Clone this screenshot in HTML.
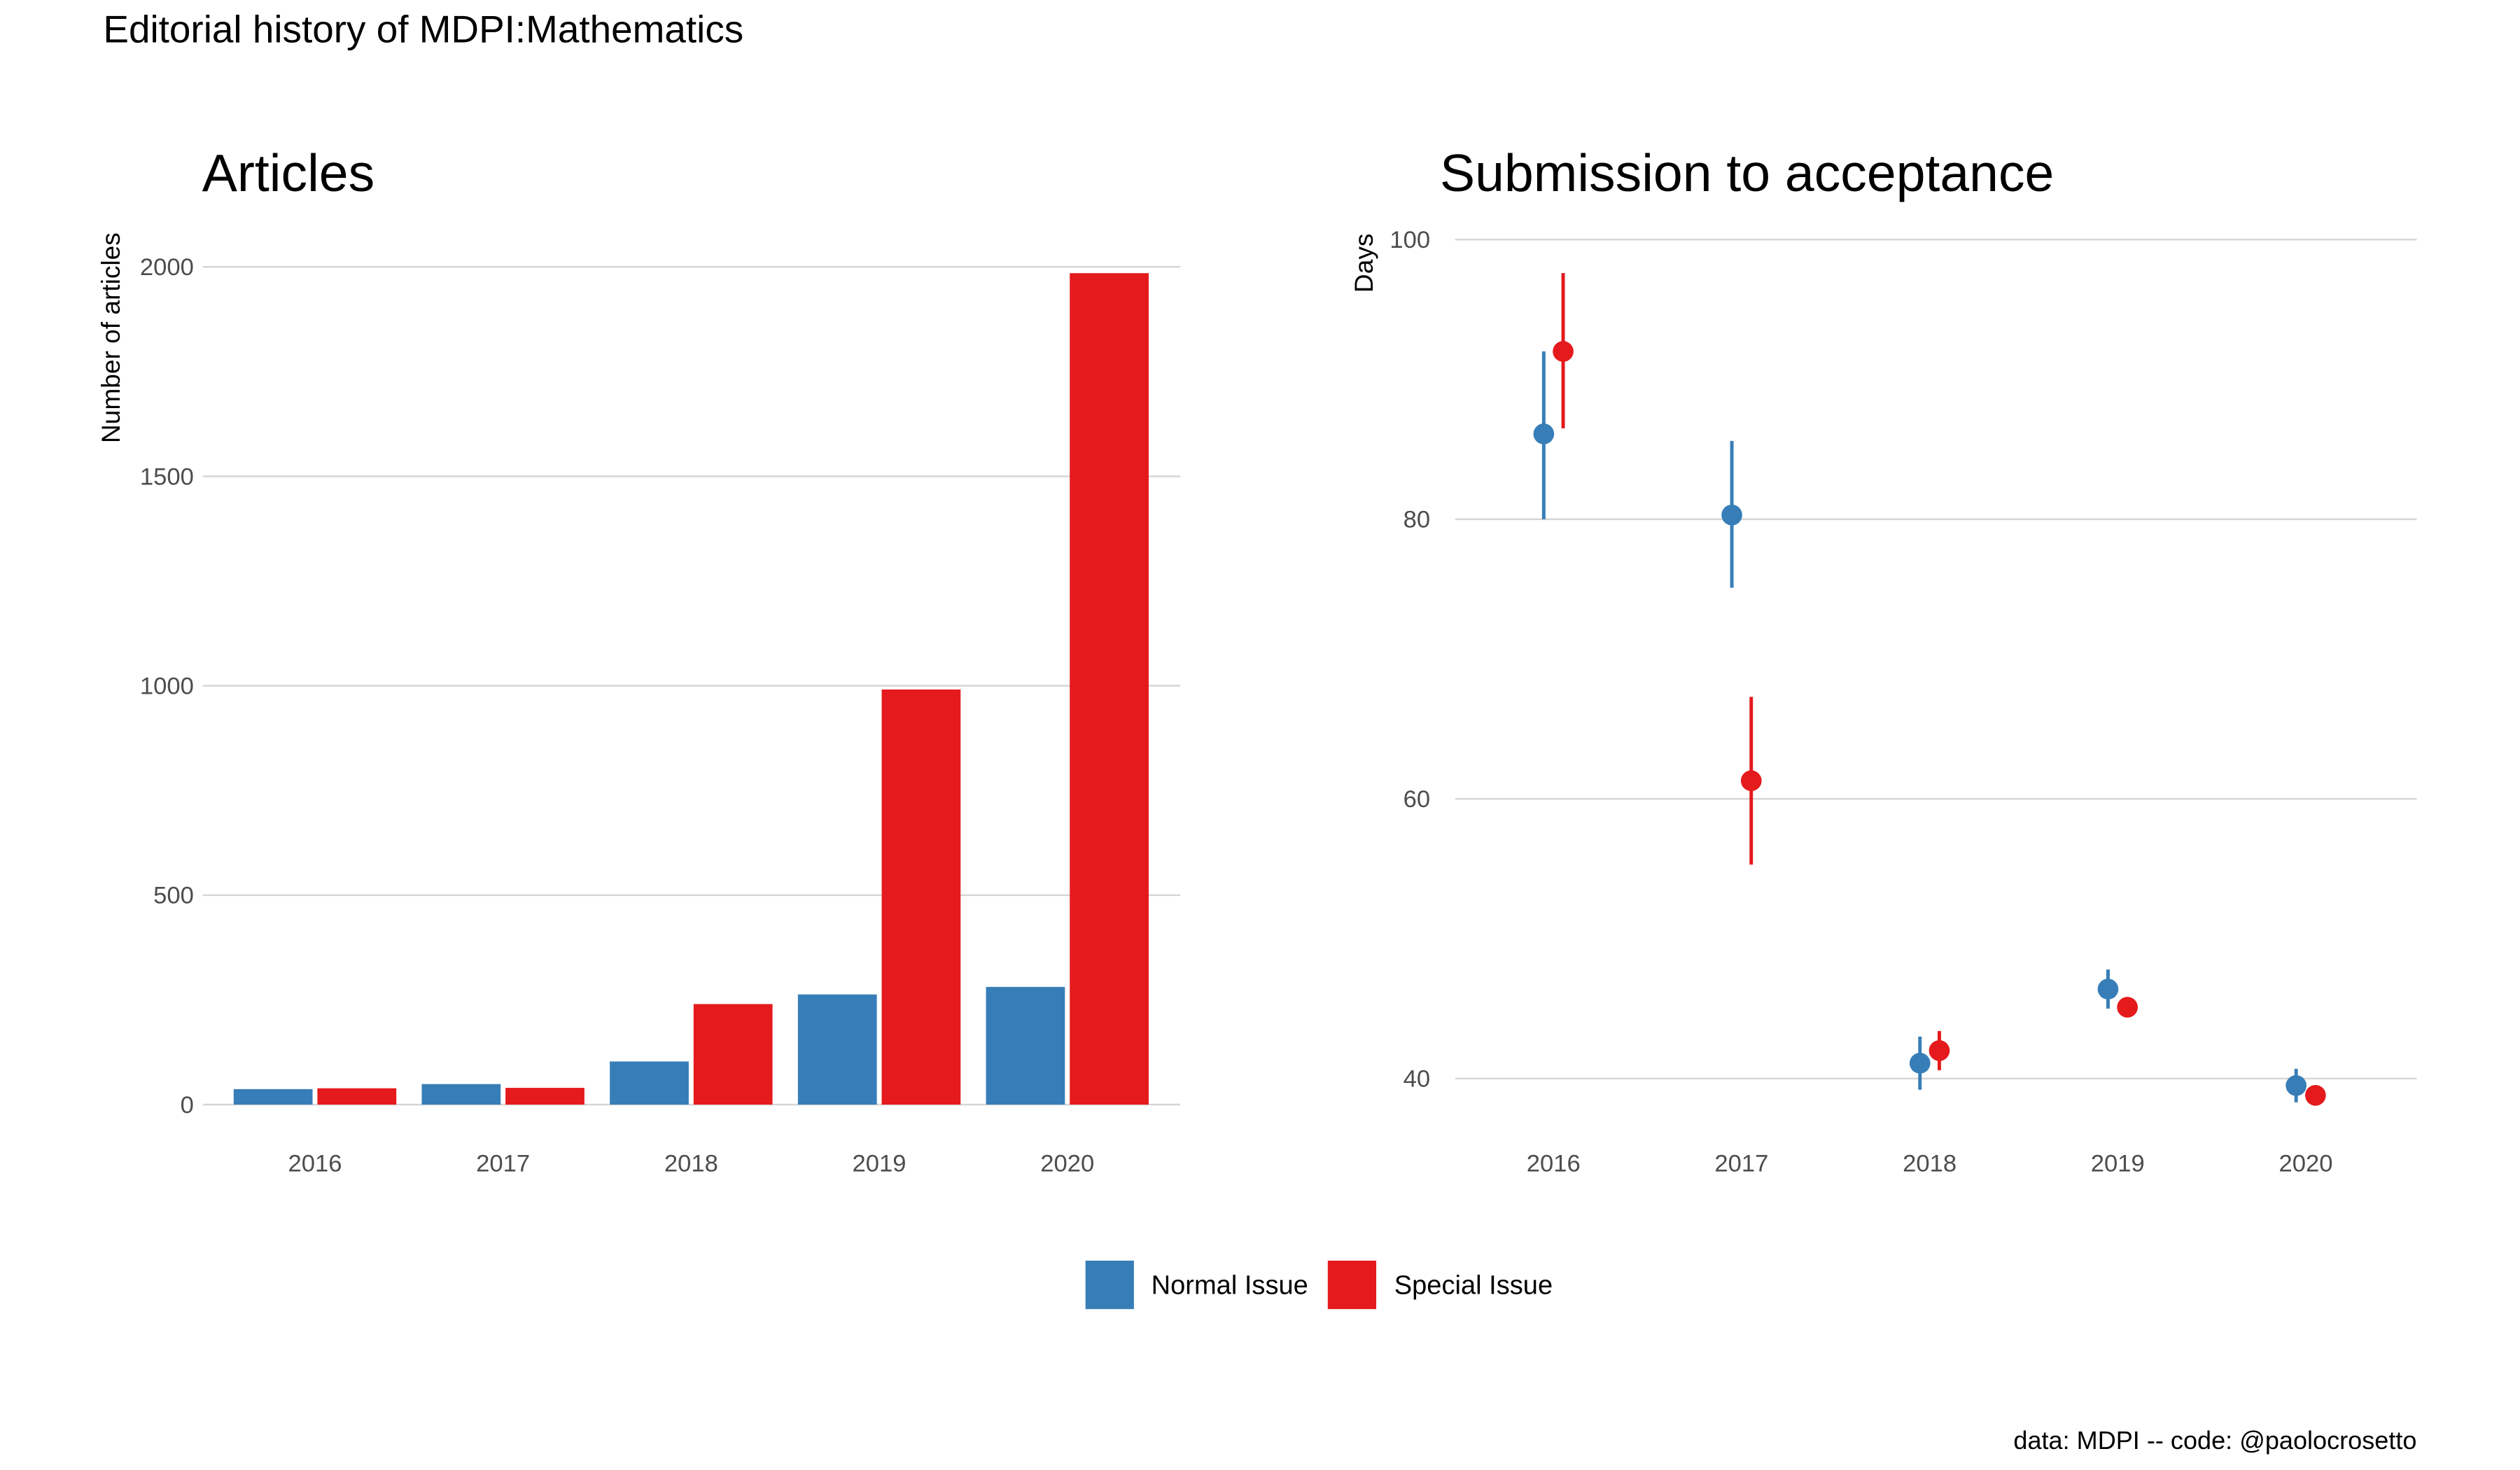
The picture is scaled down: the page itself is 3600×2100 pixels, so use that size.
<!DOCTYPE html>
<html><head><meta charset="utf-8"><style>
html,body{margin:0;padding:0;background:#fff;}
svg{display:block;font-family:"Liberation Sans",sans-serif;}
</style></head><body>
<svg id="chart" width="3600" height="2100" viewBox="0 0 3640.2 2123.4" xmlns="http://www.w3.org/2000/svg">
<text x="149" y="61" font-size="55.5" fill="#000">Editorial history of MDPI:Mathematics</text>
<text x="292" y="276" font-size="76" fill="#000">Articles</text>
<text x="2080" y="276" font-size="76" fill="#000">Submission to acceptance</text>
<text transform="translate(173,488) rotate(-90)" text-anchor="middle" font-size="37.5" fill="#000">Number of articles</text>
<text transform="translate(1983,380) rotate(-90)" text-anchor="middle" font-size="37.5" fill="#000">Days</text>
<g id="left"></g>
<g id="right"></g>
<g>
<rect x="1568" y="1821" width="70" height="70" fill="#377EB8"/>
<text x="1663" y="1869" font-size="38.5" fill="#000">Normal Issue</text>
<rect x="1918" y="1821" width="70" height="70" fill="#E41A1C"/>
<text x="2014" y="1869" font-size="38.5" fill="#000">Special Issue</text>
</g>
<text x="3491" y="2093" text-anchor="end" font-size="36.5" fill="#000">data: MDPI -- code: @paolocrosetto</text>
</svg>
<script>
const years = ["2016","2017","2018","2019","2020"];
const articlesNormal = [37, 49, 103, 263, 281];
const articlesSpecial = [39, 40, 240, 991, 1985];
const articleTicks = [0, 500, 1000, 1500, 2000];
const daysNormal = [86.1, 80.3, 41.1, 46.4, 39.5];
const daysNormalLo = [80.0, 75.1, 39.2, 45.0, 38.3];
const daysNormalHi = [92.0, 85.6, 43.0, 47.8, 40.7];
const daysSpecial = [92.0, 61.3, 42.0, 45.1, 38.8];
const daysSpecialLo = [86.5, 55.3, 40.6, 44.8, 38.2];
const daysSpecialHi = [97.6, 67.3, 43.4, 45.4, 39.3];
const dayTicks = [40, 60, 80, 100];

const NS = "http://www.w3.org/2000/svg";
function mk(parent, tag, attrs, text){
  const e = document.createElementNS(NS, tag);
  for (const k in attrs) e.setAttribute(k, attrs[k]);
  if (text !== undefined) e.textContent = text;
  parent.appendChild(e);
  return e;
}
const blue = "#377EB8", red = "#E41A1C";

// Left chart
const L = document.getElementById("left");
const lx0 = 293, lx1 = 1705;
const ly = v => 1595.6 - v * (1210.1 / 2000);
const lx = i => 455 + i * 271.7;
articleTicks.forEach(t => {
  const g = mk(L, "line", {x1: lx0, x2: lx1, y1: ly(t), y2: ly(t), stroke: "#d6d6d6", "stroke-width": 2.5});
  
  
  const tl = mk(L, "text", {x: 280, y: ly(t) + 12, "text-anchor": "end", "font-size": 35, fill: "#4d4d4d"}, String(t));
  
  
});
years.forEach((y, i) => {
  const bw = 114, gap = 7;
  const b1 = mk(L, "rect", {x: lx(i) - gap/2 - bw, y: ly(articlesNormal[i]), width: bw, height: ly(0) - ly(articlesNormal[i]), fill: blue});
  
  
  const b2 = mk(L, "rect", {x: lx(i) + gap/2, y: ly(articlesSpecial[i]), width: bw, height: ly(0) - ly(articlesSpecial[i]), fill: red});
  
  
  const xl = mk(L, "text", {x: lx(i), y: 1692, "text-anchor": "middle", "font-size": 35, fill: "#4d4d4d"}, y);
  
  
});

// Right chart
const R = document.getElementById("right");
const rx0 = 2102, rx1 = 3491;
const ry = v => 1558 - (v - 40) * (404 / 20);
const rx = i => 2244 + i * 271.7;
dayTicks.forEach(t => {
  const g = mk(R, "line", {x1: rx0, x2: rx1, y1: ry(t), y2: ry(t), stroke: "#d6d6d6", "stroke-width": 2.5});
  
  
  const tl = mk(R, "text", {x: 2066, y: ry(t) + 12, "text-anchor": "end", "font-size": 35, fill: "#4d4d4d"}, String(t));
  
  
});
years.forEach((y, i) => {
  const series = [[daysNormal, daysNormalLo, daysNormalHi, blue, -14, 'normal'], [daysSpecial, daysSpecialLo, daysSpecialHi, red, 14, 'special']];
  series.forEach(s => {
    const x = rx(i) + s[4];
    const ln = mk(R, "line", {x1: x, x2: x, y1: ry(s[1][i]), y2: ry(s[2][i]), stroke: s[3], "stroke-width": 5});
    
    
    const c = mk(R, "circle", {cx: x, cy: ry(s[0][i]), r: 15, fill: s[3]});
    
    
  });
  const xl = mk(R, "text", {x: rx(i), y: 1692, "text-anchor": "middle", "font-size": 35, fill: "#4d4d4d"}, y);
  
  
});
</script>
</body></html>
